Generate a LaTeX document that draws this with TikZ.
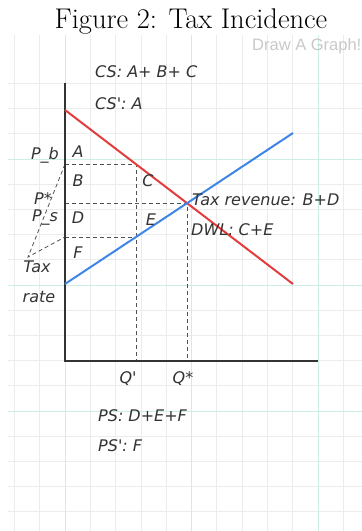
\documentclass[tikz,border=0pt]{standalone}
\usepackage{fontspec}
\newfontfamily\hand{DejaVu Sans}
\newfontfamily\wmfont{Liberation Sans}
\usetikzlibrary{calc}
\definecolor{minorgrid}{HTML}{ECECEC}
\definecolor{majorgrid}{HTML}{CDEEE6}
\definecolor{ink}{HTML}{333333}
\definecolor{dem}{HTML}{E23C3C}
\definecolor{sup}{HTML}{3D86E8}
\definecolor{wmark}{HTML}{C8C8C8}
\begin{document}
\begin{tikzpicture}[x=1pt,y=-1pt,
  lab/.style={font=\hand\itshape\fontsize{16}{16}\selectfont, text=ink, inner sep=0pt},
  guide/.style={draw=ink!85, line width=0.8pt, dash pattern=on 4pt off 3pt},
  axisline/.style={draw=ink, line width=1.3pt},
  curve/.style={line width=2pt}]
\useasboundingbox (0,0) rectangle (362,531);
% grid
\begin{scope}
\clip (8,35) rectangle (362,531);
\foreach \k in {-2,...,11} {
  \pgfmathsetmacro{\xx}{65+25.3*\k}
  \draw[minorgrid, line width=0.8pt] (\xx,35) -- (\xx,531);
}
\foreach \k in {-6,...,13} {
  \pgfmathsetmacro{\yy}{411-25.2*\k}
  \draw[minorgrid, line width=0.8pt] (8,\yy) -- (362,\yy);
}
\foreach \xx in {65,191.5,318} \draw[majorgrid, line width=0.8pt] (\xx,35) -- (\xx,531);
\foreach \yy in {159,285,411} \draw[majorgrid, line width=0.8pt] (8,\yy) -- (362,\yy);
\end{scope}
% title and watermark
\node[font=\fontsize{28.5}{28.5}\selectfont, anchor=base] (title) at (191,28) {Figure 2: Tax Incidence};
\begin{scope}
\clip (0,0) rectangle (362,531);
\node[font=\wmfont\fontsize{16.5}{16.5}\selectfont, text=wmark, anchor=west, inner sep=0pt] (wm) at (252,46) {Draw A Graph!};
\end{scope}
% geometry
\coordinate (O) at (65,361);
\coordinate (Ytop) at (65,83);
\coordinate (Xend) at (318,361);
\coordinate (D1) at (65,110);
\coordinate (D2) at (293,284);
\coordinate (S1) at (65,284);
\coordinate (S2) at (293,133);
\coordinate (Eq) at (intersection of D1--D2 and S1--S2);
\coordinate (Pbq) at ($(D1)!71/228!(D2)$);
\coordinate (Psq) at ($(S1)!71/228!(S2)$);
\coordinate (Pb) at (O |- Pbq);
\coordinate (Ps) at (O |- Psq);
\coordinate (Pst) at (O |- Eq);
\coordinate (Qp) at (Pbq |- O);
\coordinate (Qs) at (Eq |- O);
\coordinate (taxpt) at (28,257);
% guides
\draw[guide] (Pb) -- (Pbq) -- (Qp);
\draw[guide] (Ps) -- (Psq);
\draw[guide] (Pst) -- (Eq) -- (Qs);
\draw[guide] (Pb) -- (taxpt) -- (Ps);
% axes
\draw[axisline] (Ytop) -- (O) -- (Xend);
% curves
\draw[curve, dem] (D1) -- (D2);
\draw[curve, sup] (S1) -- (S2);
% labels
\node[lab, anchor=west] (cs) at (95,72) {CS: A+ B+ C};
\node[lab, anchor=west] (csp) at (95,104) {CS': A};
\node[lab] (pb) at (45,155) {P\_b};
\node[lab] (pst) at (43,199) {P*};
\node[lab] (ps) at (45,218) {P\_s};
\node[lab] (tax) at (37,267) {Tax};
\node[lab] (rate) at (39,297) {rate};
\node[lab] (A) at (78,152) {A};
\node[lab] (B) at (78,181) {B};
\node[lab] (D) at (78,218) {D};
\node[lab] (F) at (78,253) {F};
\node[lab] (C) at (148,181) {C};
\node[lab] (E) at (151,220) {E};
\node[lab, anchor=west] (rev) at (192,200) {Tax revenue: B+D};
\node[lab, anchor=west] (dwl) at (191,230) {DWL: C+E};
\node[lab] (qp) at (128,379) {Q'};
\node[lab] (qs) at (183,379) {Q*};
\node[lab, anchor=west] (psl) at (98,416) {PS: D+E+F};
\node[lab, anchor=west] (psp) at (98,446) {PS': F};
\end{tikzpicture}
\end{document}
